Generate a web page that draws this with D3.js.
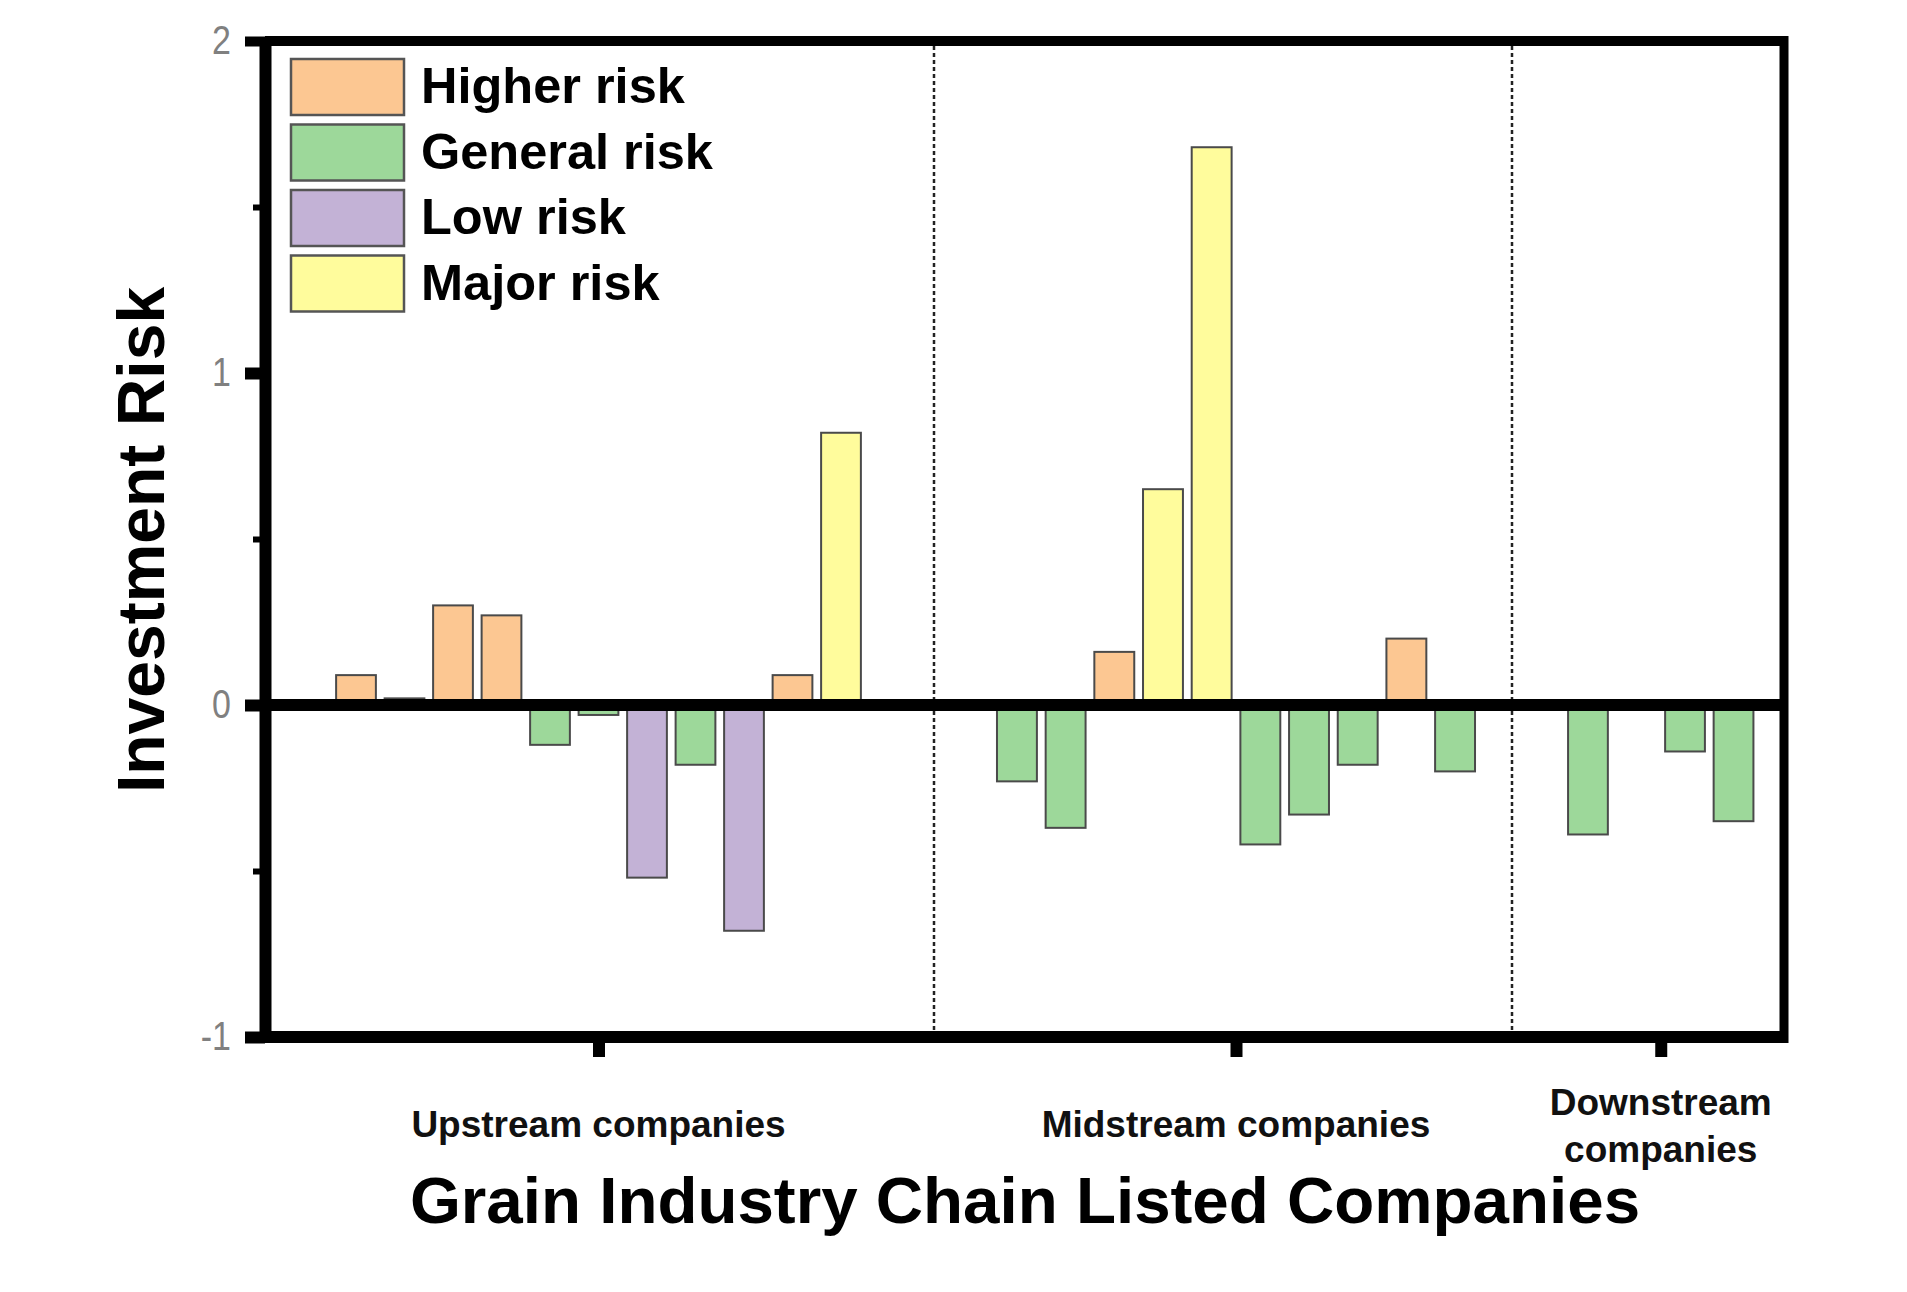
<!DOCTYPE html>
<html>
<head>
<meta charset="utf-8">
<script src="https://cdnjs.cloudflare.com/ajax/libs/d3/7.8.5/d3.min.js"></script>
<style>
    body { margin: 0; background: #fff; }
    text { font-family: "Liberation Sans", Arial, sans-serif; }
</style>
</head>
<body>
<div id="chart"></div>
<script>
// data
const groups = ['Upstream companies', 'Midstream companies', 'Downstream companies'];
const groupLabelLines = [['Upstream companies'], ['Midstream companies'], ['Downstream', 'companies']];

const upstreamValues = [0.09, 0.02, 0.30, 0.27, -0.12, -0.03, -0.52, -0.18, -0.68, 0.09, 0.82];
const upstreamRisk = ['Higher risk', 'General risk', 'Higher risk', 'Higher risk', 'General risk', 'General risk',
    'Low risk', 'General risk', 'Low risk', 'Higher risk', 'Major risk'];

const midstreamValues = [-0.23, -0.37, 0.16, 0.65, 1.68, -0.42, -0.33, -0.18, 0.20, -0.20];
const midstreamRisk = ['General risk', 'General risk', 'Higher risk', 'Major risk', 'Major risk', 'General risk',
    'General risk', 'General risk', 'Higher risk', 'General risk'];

const downstreamValues = [-0.39, 0, -0.14, -0.35];
const downstreamRisk = ['General risk', 'General risk', 'General risk', 'General risk'];

const riskLevels = ['Higher risk', 'General risk', 'Low risk', 'Major risk'];
const riskColors = ['#fcc792', '#9dd89a', '#c3b2d6', '#fffc9c'];

const yTicks = [-1, 0, 1, 2];
const yMinorTicks = [-0.5, 0.5, 1.5];

// layout
const W = 1907, H = 1292;
const plot = { left: 265, right: 1784, top: 41, bottom: 1037 };
const groupRanges = [[331.75, 865.25], [992.6, 1479.4], [1563.7, 1757.8]];
const separators = [934, 1512];

const svg = d3.select('#chart').append('svg')
    .attr('width', W)
    .attr('height', H);

const y = d3.scaleLinear().domain([-1, 2]).range([plot.bottom, plot.top]);
const color = d3.scaleOrdinal().domain(riskLevels).range(riskColors);

const groupData = [
    upstreamValues.map((v, i) => ({ value: v, risk: upstreamRisk[i] })),
    midstreamValues.map((v, i) => ({ value: v, risk: midstreamRisk[i] })),
    downstreamValues.map((v, i) => ({ value: v, risk: downstreamRisk[i] }))
];

const centers = groupRanges.map(r => (r[0] + r[1]) / 2);
const xGroup = d3.scaleOrdinal().domain(groups).range(centers);

// bars
groupData.forEach((bars, g) => {
    const x = d3.scaleBand()
        .domain(d3.range(bars.length))
        .range(groupRanges[g])
        .paddingInner(0.18)
        .paddingOuter(0.09);

    svg.append('g').selectAll('rect')
        .data(bars)
        .join('rect')
        .attr('x', (d, i) => x(i))
        .attr('y', d => y(Math.max(0, d.value)))
        .attr('width', x.bandwidth())
        .attr('height', d => Math.abs(y(d.value) - y(0)))
        .attr('fill', d => color(d.risk))
        .attr('stroke', '#4a4a4a')
        .attr('stroke-width', 2);
});

// dotted separators
svg.append('g').selectAll('line')
    .data(separators)
    .join('line')
    .attr('x1', d => d).attr('x2', d => d)
    .attr('y1', plot.top + 5).attr('y2', plot.bottom - 6)
    .attr('stroke', '#222')
    .attr('stroke-width', 2.5)
    .attr('stroke-dasharray', '4,3');

// frame lines (top, zero, bottom) and right edge
svg.append('g').selectAll('line')
    .data([2, 0, -1])
    .join('line')
    .attr('x1', plot.left).attr('x2', plot.right + 4)
    .attr('y1', d => y(d)).attr('y2', d => y(d))
    .attr('stroke', '#000')
    .attr('stroke-width', d => d === 2 ? 10 : 12);

svg.append('line')
    .attr('x1', plot.right).attr('x2', plot.right)
    .attr('y1', plot.top - 5).attr('y2', plot.bottom + 6)
    .attr('stroke', '#000')
    .attr('stroke-width', 9);

// y axis
const yAxis = svg.append('g')
    .attr('transform', `translate(${plot.left},0)`)
    .call(d3.axisLeft(y).tickValues(yTicks).tickSize(20).tickSizeOuter(0).tickPadding(14)
        .tickFormat(d => String(d)));
yAxis.select('.domain').attr('stroke', '#000').attr('stroke-width', 12);
yAxis.selectAll('.tick line').attr('stroke', '#000').attr('stroke-width', d => d === 2 ? 10 : 12);
yAxis.selectAll('.tick text')
    .attr('font-family', '"Liberation Serif", "Times New Roman", serif')
    .attr('font-size', 40)
    .attr('fill', '#808080')
    .attr('transform', 'scale(0.85,1)')
    .attr('x', -34 / 0.85);

const yMinor = svg.append('g')
    .attr('transform', `translate(${plot.left},0)`)
    .call(d3.axisLeft(y).tickValues(yMinorTicks).tickSize(12).tickFormat(''));
yMinor.select('.domain').remove();
yMinor.selectAll('.tick line').attr('stroke', '#000').attr('stroke-width', 6);

// x axis: one tick per group
const xAxis = svg.append('g')
    .attr('transform', `translate(0,${plot.bottom})`)
    .call(d3.axisBottom(xGroup).tickSize(20).tickSizeOuter(0).tickFormat(''));
xAxis.select('.domain').remove();
xAxis.selectAll('.tick line').attr('stroke', '#000').attr('stroke-width', 12);

// group labels
const labels = svg.append('g');
groups.forEach((g, i) => {
    const lines = groupLabelLines[i];
    const t = labels.append('text')
        .attr('text-anchor', 'middle')
        .attr('font-size', 37)
        .attr('font-weight', 'bold')
        .attr('fill', '#111');
    lines.forEach((line, j) => {
        t.append('tspan')
            .attr('x', xGroup(g))
            .attr('y', lines.length === 1 ? 1137 : 1115 + j * 47)
            .text(line);
    });
});

// axis titles
svg.append('text')
    .attr('x', 1025)
    .attr('y', 1223)
    .attr('text-anchor', 'middle')
    .attr('font-size', 65.5)
    .attr('font-weight', 'bold')
    .attr('fill', '#000')
    .text('Grain Industry Chain Listed Companies');

svg.append('text')
    .attr('transform', 'translate(164,540) rotate(-90)')
    .attr('text-anchor', 'middle')
    .attr('font-size', 66)
    .attr('font-weight', 'bold')
    .attr('fill', '#000')
    .text('Investment Risk');

// legend
const legend = svg.append('g').attr('transform', 'translate(291,59)');
const item = legend.selectAll('g')
    .data(riskLevels)
    .join('g')
    .attr('transform', (d, i) => `translate(0,${i * 65.5})`);

item.append('rect')
    .attr('width', 113)
    .attr('height', 56)
    .attr('fill', d => color(d))
    .attr('stroke', '#555')
    .attr('stroke-width', 2.5);

item.append('text')
    .attr('x', 130)
    .attr('y', 44)
    .attr('font-size', 50.5)
    .attr('font-weight', 'bold')
    .attr('fill', '#000')
    .text(d => d);
</script>
</body>
</html>
